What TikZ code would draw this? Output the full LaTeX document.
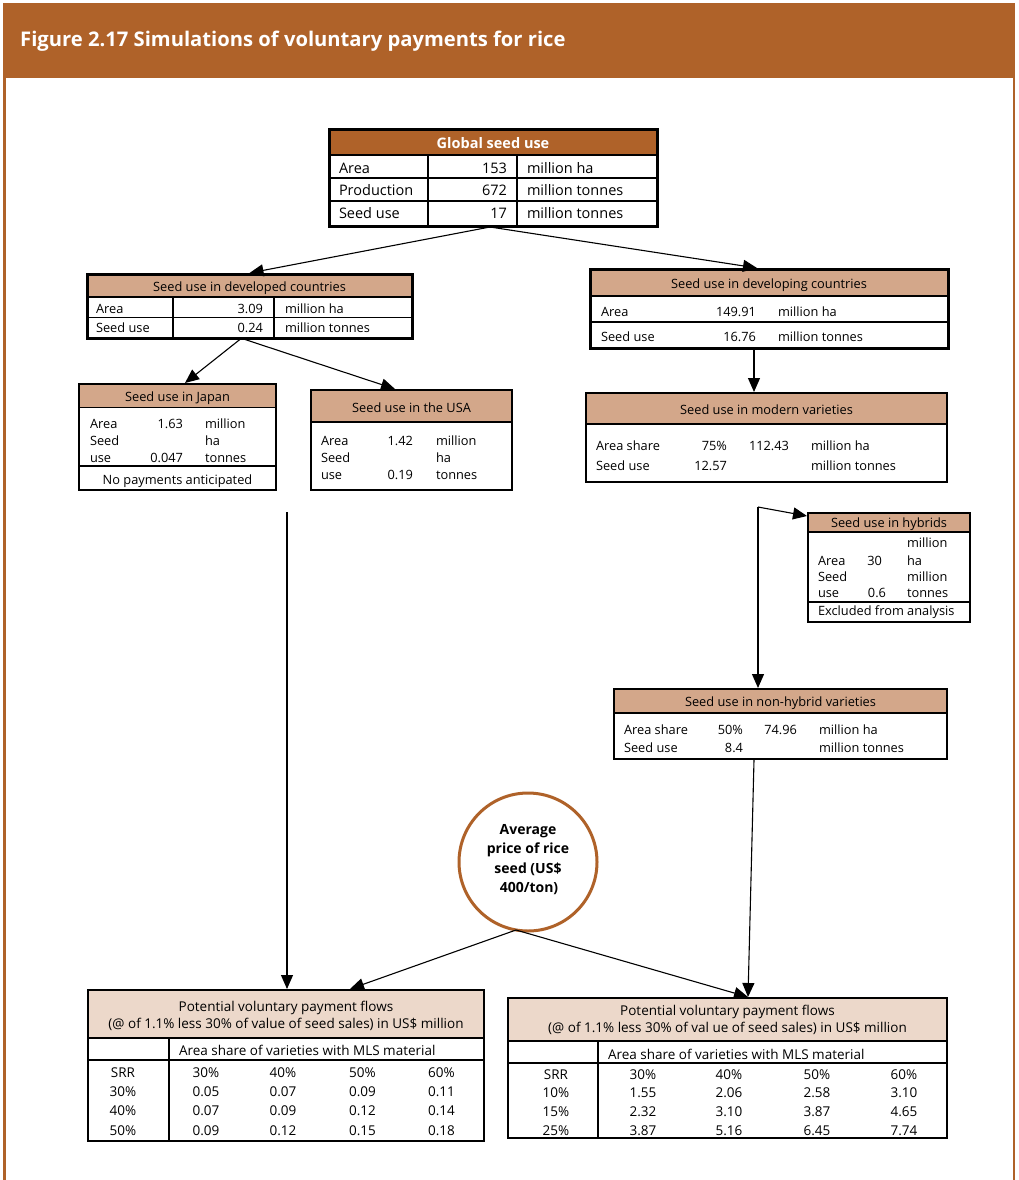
\documentclass[tikz,border=0pt]{standalone}
\usepackage{fontspec}
\setmainfont{Open Sans}
\usetikzlibrary{arrows.meta,calc}
\definecolor{brn}{HTML}{AF6229}
\definecolor{tanh}{HTML}{D3A78A}
\definecolor{lite}{HTML}{ECD8CA}
\begin{document}
\begin{tikzpicture}[x=1pt,y=-1pt,
  t/.style={inner sep=0pt, outer sep=0pt, yshift=-2.5pt, font=\fontsize{12.8}{14}\selectfont},
  tw/.style={t, anchor=mid west}, te/.style={t, anchor=mid east}, tc/.style={t, anchor=mid},
  g/.style={font=\fontsize{14.5}{16}\selectfont},
  gb/.style={font=\fontsize{14.5}{16}\selectfont\bfseries},
  cb/.style={font=\fontsize{14}{16}\selectfont\bfseries},
  bt/.style={font=\fontsize{13.5}{15}\selectfont},
  frame/.style={draw, inner sep=0pt, outer sep=0pt, anchor=north west},
  thk/.style={line width=3pt}, med/.style={line width=2.2pt},
  ln/.style={line width=1.2pt},
  arr/.style={line width=1.1pt, -{Triangle[length=14pt,width=12pt]}}]
\useasboundingbox (0,0) rectangle (1018,1180);
\fill[white] (0,0) rectangle (1018,1180);
% frame and title
\fill[brn] (3,3) rectangle (1015,78);
\draw[brn, line width=2.5pt] (4.25,78) -- (4.25,1180);
\draw[brn, line width=2.5pt] (1013.75,78) -- (1013.75,1180);
\node[inner sep=0pt, anchor=mid west, text=white, font=\fontsize{20.2}{23}\selectfont\bfseries] (title) at (20,44) {Figure 2.17 Simulations of voluntary payments for rice};

% ---------------- Global seed use
\fill[brn] (329,130) rectangle (657,155);
\draw[line width=2pt] (329,155) -- (657,155);
\draw[ln] (329,178) -- (657,178) (329,201) -- (657,201);
\draw[ln] (428,155) -- (428,226) (517,155) -- (517,226);
\node[frame, thk, minimum width=328pt, minimum height=96pt] (glob) at (329,130) {};
\node[tc, gb, text=white] (globh) at (493,143) {Global seed use};
\node[tw, g] (g1) at (339,168) {Area};
\node[te, g] (g2) at (507,168) {153};
\node[tw, g] (g3) at (527,168) {million ha};
\node[tw, g] (g4) at (339,190) {Production};
\node[te, g] (g5) at (507,190) {672};
\node[tw, g] (g6) at (527,190) {million tonnes};
\node[tw, g] (g7) at (339,213) {Seed use};
\node[te, g] (g8) at (507,213) {17};
\node[tw, g] (g9) at (527,213) {million tonnes};

% ---------------- Developed
\fill[tanh] (87,274) rectangle (412,297);
\draw[ln] (87,297) -- (412,297) (87,317.5) -- (412,317.5);
\draw[ln] (173,297) -- (173,338) (274,297) -- (274,338);
\node[frame, thk, minimum width=325pt, minimum height=64pt] (dev) at (87,274) {};
\node[tc] (devh) at (249.5,286) {Seed use in developed countries};
\node[tw] (d1) at (96,308) {Area};
\node[te] (d2) at (263,308) {3.09};
\node[tw] (d3) at (285,308) {million ha};
\node[tw] (d4) at (96,327.5) {Seed use};
\node[te] (d5) at (263,327.5) {0.24};
\node[tw] (d6) at (285,327.5) {million tonnes};

% ---------------- Japan
\fill[tanh] (79,384) rectangle (276,407.5);
\draw[ln] (79,407.5) -- (276,407.5) (79,466) -- (276,466);
\node[frame, med, minimum width=197pt, minimum height=106pt] (jap) at (79,384) {};
\node[tc] (japh) at (177.5,396) {Seed use in Japan};
\node[tw] (j1) at (90,423) {Area};
\node[te] (j2) at (183,423) {1.63};
\node[tw] (j3) at (205,423) {million};
\node[tw] (j4) at (90,440) {Seed};
\node[tw] (j5) at (205,440) {ha};
\node[tw] (j6) at (90,457) {use};
\node[te] (j7) at (183,457) {0.047};
\node[tw] (j8) at (205,457) {tonnes};
\node[tc] (j9) at (177.5,479) {No payments anticipated};

% ---------------- USA
\fill[tanh] (311,390) rectangle (512,422);
\draw[ln] (311,422) -- (512,422);
\node[frame, med, minimum width=201pt, minimum height=100pt] (usa) at (311,390) {};
\node[tc] (usah) at (411.5,407) {Seed use in the USA};
\node[tw] (u1) at (321,440) {Area};
\node[te] (u2) at (413,440) {1.42};
\node[tw] (u3) at (436,440) {million};
\node[tw] (u4) at (321,457) {Seed};
\node[tw] (u5) at (436,457) {ha};
\node[tw] (u6) at (321,474) {use};
\node[te] (u7) at (413,474) {0.19};
\node[tw] (u8) at (436,474) {tonnes};

% ---------------- Developing
\fill[tanh] (590,269) rectangle (948,296);
\draw[ln] (590,296) -- (948,296) (590,322) -- (948,322);
\node[frame, thk, minimum width=358pt, minimum height=79pt] (devg) at (590,269) {};
\node[tc] (devgh) at (769,283) {Seed use in developing countries};
\node[tw] (v1) at (601,311.5) {Area};
\node[te] (v2) at (756,311.5) {149.91};
\node[tw] (v3) at (778,311.5) {million ha};
\node[tw] (v4) at (601,336.5) {Seed use};
\node[te] (v5) at (756,336.5) {16.76};
\node[tw] (v6) at (778,336.5) {million tonnes};

% ---------------- Modern varieties
\fill[tanh] (586,393) rectangle (947,424);
\draw[ln] (586,424) -- (947,424);
\node[frame, med, minimum width=361pt, minimum height=89pt] (mod) at (586,393) {};
\node[tc] (modh) at (766.5,409) {Seed use in modern varieties};
\node[tw] (m1) at (596,445.5) {Area share};
\node[te] (m2) at (727,445.5) {75\%};
\node[te] (m3) at (789,445.5) {112.43};
\node[tw] (m4) at (811,445.5) {million ha};
\node[tw] (m5) at (596,465) {Seed use};
\node[te] (m6) at (727,465) {12.57};
\node[tw] (m7) at (811,465) {million tonnes};

% ---------------- Hybrids
\fill[tanh] (808,513) rectangle (970,532);
\draw[ln] (808,532) -- (970,532) (808,602) -- (970,602);
\node[frame, med, minimum width=162pt, minimum height=109pt] (hyb) at (808,513) {};
\node[tc] (hybh) at (889,522.5) {Seed use in hybrids};
\node[tw] (h1) at (907,542.5) {million};
\node[tw] (h2) at (818,560) {Area};
\node[te] (h3) at (882,560) {30};
\node[tw] (h4) at (907,560) {ha};
\node[tw] (h5) at (818,576.5) {Seed};
\node[tw] (h6) at (907,576.5) {million};
\node[tw] (h7) at (818,592.5) {use};
\node[te] (h8) at (886,592.5) {0.6};
\node[tw] (h9) at (907,592.5) {tonnes};
\node[tw] (h10) at (818,610.5) {Excluded from analysis};

% ---------------- Non-hybrid
\fill[tanh] (614,689) rectangle (947,713);
\draw[ln] (614,713) -- (947,713);
\node[frame, med, minimum width=333pt, minimum height=70pt] (nhy) at (614,689) {};
\node[tc] (nhyh) at (780.5,701) {Seed use in non-hybrid varieties};
\node[tw] (n1) at (624,729) {Area share};
\node[te] (n2) at (743,729) {50\%};
\node[te] (n3) at (797,729) {74.96};
\node[tw] (n4) at (819,729) {million ha};
\node[tw] (n5) at (624,747) {Seed use};
\node[te] (n6) at (743,747) {8.4};
\node[tw] (n7) at (819,747) {million tonnes};

% ---------------- Price circle
\node[circle, draw=brn, line width=3pt, minimum size=138pt, inner sep=0pt, outer sep=0pt] (circ) at (528,862) {};
\node[tc, cb] (c1) at (528,829) {Average};
\node[tc, cb] (c2) at (528,848.5) {price of rice};
\node[tc, cb] (c3) at (528,868) {seed (US\$};
\node[tc, cb] (c4) at (529,887) {400/ton)};

% ---------------- Left bottom table
\fill[lite] (88,990) rectangle (484,1038);
\draw[ln] (88,1038) -- (484,1038) (88,1060) -- (484,1060);
\draw[ln] (169,1038) -- (169,1141);
\node[frame, med, minimum width=396pt, minimum height=151pt] (lt) at (88,990) {};
\node[tc, bt] (l1) at (286,1006.5) {Potential voluntary payment flows};
\node[tc, bt] (l2) at (286,1023) {(@ of 1.1\% less 30\% of value of seed sales) in US\$ million};
\node[tw, bt] (l3) at (179,1050.5) {Area share of varieties with MLS material};
\foreach \r/\y/\a/\b/\c/\d in {SRR/1072.5/30\%/40\%/50\%/60\%, 30\%/1091.5/0.05/0.07/0.09/0.11, 40\%/1110/0.07/0.09/0.12/0.14, 50\%/1130.5/0.09/0.12/0.15/0.18}{
  \node[tc, bt] at (123,\y) {\r};
  \node[tc, bt] at (206,\y) {\a};
  \node[tc, bt] at (283,\y) {\b};
  \node[tc, bt] at (362.5,\y) {\c};
  \node[tc, bt] at (441.5,\y) {\d};
}

% ---------------- Right bottom table
\fill[lite] (508,998) rectangle (947,1041);
\draw[ln] (508,1041) -- (947,1041) (508,1063) -- (947,1063);
\draw[ln] (598,1041) -- (598,1138);
\node[frame, med, minimum width=439pt, minimum height=140pt] (rt) at (508,998) {};
\node[tc, bt] (r1) at (727.5,1010) {Potential voluntary payment flows};
\node[tc, bt] (r2) at (727.5,1027.5) {(@ of 1.1\% less 30\% of val ue of seed sales) in US\$ million};
\node[tw, bt] (r3) at (608,1054) {Area share of varieties with MLS material};
\foreach \r/\y/\a/\b/\c/\d in {SRR/1074/30\%/40\%/50\%/60\%, 10\%/1092/1.55/2.06/2.58/3.10, 15\%/1111/2.32/3.10/3.87/4.65, 25\%/1130/3.87/5.16/6.45/7.74}{
  \node[tc, bt] at (556,\y) {\r};
  \node[tc, bt] at (643,\y) {\a};
  \node[tc, bt] at (729,\y) {\b};
  \node[tc, bt] at (817,\y) {\c};
  \node[tc, bt] at (904,\y) {\d};
}

% ---------------- Connectors
\coordinate (jfree) at (287,512);
\coordinate (hfork) at (758,507);
\draw[arr] ($(glob.south)+(-3,1)$) -- ($(dev.north)+(0,-1)$);
\draw[arr] ($(glob.south)+(-3,1)$) -- ($(devg.north)+(-12,-1)$);
\draw[arr] ($(dev.south)+(-9,1)$) -- ($(jap.north)+(7.5,-1)$);
\draw[arr] ($(dev.south)+(-6,1)$) -- ($(usa.north)+(-16.5,-1)$);
\draw[arr] ($(devg.south)+(-15,1)$) -- ($(mod.north)+(-12.5,-1)$);
\draw[arr] (hfork) -- ($(hyb.north west)+(-1,3)$);
\draw[arr] (hfork) -- ($(nhy.north)+(-22.5,-1)$);
\draw[arr] ($(nhy.south)+(-26.5,1)$) -- ($(rt.north)+(20.5,-1)$);
\draw[arr] (jfree) -- ($(lt.north)+(1,-1)$);
\draw[arr] ($(circ.south)+(-12,-1)$) -- ($(lt.north)+(64,-1)$);
\draw[arr] ($(circ.south)+(-12,-1)$) -- ($(rt.north)+(20.5,-1)$);
\end{tikzpicture}
\end{document}
